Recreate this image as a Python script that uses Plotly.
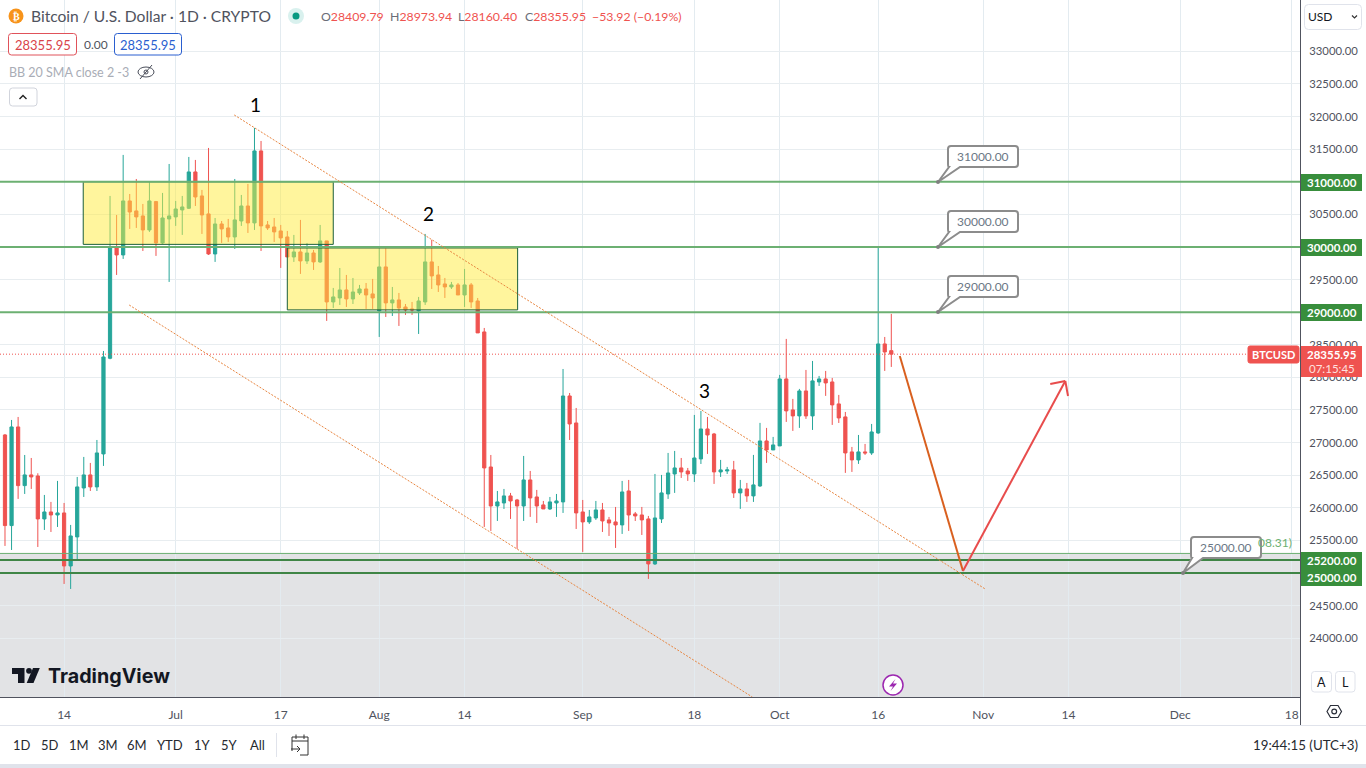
import pandas as pd
import plotly.graph_objects as go

W, H = 1366, 768
PLOT_R, PLOT_B = 1300, 697
FONT = "Lato"

first_day = "2023-06-05"
opens = [27117,25727,27240,26340,26504,26488,25829,25936,25890,25921,25108,25553,26304,26504,26320,26826,
 28293,30001,29878,30706,30553,30476,30261,30696,30062,30430,30461,30568,30594,31151,30783,30507,29893,30353,30292,30154,30399,30629,30369,31473,30338,30307,30246,30154,29847,29924,29786,29908,29771,30093,
 29157,29218,29341,29203,29295,29356,29280,29019,29694,29142,29188,29080,29050,29019,29157,29771,29571,29433,29387,29418,29264,29418,29172,
 28697,26626,26028,26074,26182,26120,26028,26427,26166,26044,25982,26074,26090,27715,27301,25936,25783,25844,25967,25814,25783,25737,26258,25906,25890,25829,25139,25829,26212,26519,26611,26565,26519,26749,27209,27132,
 26550,26565,26581,26228,26289,26182,26335,27025,26887,26949,27976,27501,27409,27792,27409,27930,27976,27930,27593,27394,26857,26734,26857,26841,27148,28513,28409.79]
highs = [27132,27347,27393,26810,26764,26529,26197,26090,26412,26074,25737,26473,26780,26688,27040,28405,
 30783,30491,31412,30813,31043,30660,30997,30706,30829,31273,30706,30783,31381,31335,30875,31519,30445,30399,30430,31043,30798,30967,31826,31626,30399,30445,30338,30246,30185,30415,30062,29955,30338,30093,
 29372,29678,29571,29525,29418,29448,29510,29980,29980,29387,29295,29126,29157,29234,30200,30108,29709,29525,29464,29448,29663,29448,29218,
 28758,26810,26258,26289,26228,26136,26795,26565,26274,26105,26166,26212,28129,27761,27531,26120,25967,26105,26074,25860,26013,26412,26427,25936,26013,25875,26519,26504,26841,26872,26764,26611,27424,27485,27393,27148,
 26734,26627,26719,26427,26381,26811,27302,27225,27087,28038,28590,27670,27823,28114,28252,28022,28099,27992,27731,27470,26933,27117,26979,27286,30000,28620,28973.94]
lows = [25415,25353,26136,26212,26289,25399,25660,25629,25706,24832,24755,25200,26166,26258,26258,26642,
 28278,29571,29817,30277,30292,29939,30231,29863,30047,29464,30323,30185,30583,30629,30200,29878,29771,30062,30077,29970,30323,30215,30261,29939,30261,30077,29679,29847,29771,29587,29740,29648,29755,28866,
 29065,29111,29080,29126,29264,29050,29050,28620,28927,28942,28789,28958,28958,28666,29111,29356,29310,29218,29356,29264,29080,29065,28682,
 25706,25645,25798,25982,25829,25369,25798,25860,25767,25982,25967,25860,25921,27040,25675,25323,25752,25814,25629,25568,25384,25599,25645,25798,25583,24909,25123,25767,26136,26228,26458,26412,26396,26672,26826,26366,
 26473,26519,26151,25983,26090,26090,26320,26688,26887,26949,27317,27179,27225,27363,27194,27869,27716,27271,27301,26535,26550,26673,26811,26811,27133,28099,28160.40]
closes = [25727,27240,26340,26504,26473,25829,25936,25890,25921,25108,25568,26320,26504,26320,26841,28313,
 30006,29878,30706,30537,30461,30261,30706,30062,30445,30476,30583,30614,31151,30767,30491,29893,30353,30277,30154,30415,30629,30369,31473,30323,30292,30231,30139,29847,29924,29786,29908,29771,30093,29157,
 29234,29341,29203,29310,29356,29264,29218,29694,29142,29188,29065,29034,29034,29172,29771,29556,29418,29387,29418,29264,29418,29157,28682,
 26611,26028,26090,26182,26105,26028,26427,26151,26028,25982,26090,26105,27715,27286,25921,25783,25860,25967,25798,25767,25737,26243,25890,25875,25814,25139,25844,26228,26534,26611,26550,26519,26764,27209,27117,26550,
 26581,26581,26228,26289,26182,26351,27025,26887,26964,27976,27486,27409,27792,27409,27946,27976,27915,27578,27378,26841,26734,26857,26841,27163,28513,28390,28355.95]

y_ticks = list(range(24000, 33500, 500))
tagged_ticks = [25000, 29000, 30000, 31000]
x_tick_dates = ["2023-06-14","2023-07-01","2023-07-17","2023-08-01","2023-08-14","2023-09-01","2023-09-18",
                "2023-10-01","2023-10-16","2023-11-01","2023-11-14","2023-12-01","2023-12-18"]
x_tick_text = ["14","Jul","17","Aug","14","Sep","18","Oct","16","Nov","14","Dec","18"]

levels_light = [31000, 30000, 29000]
levels_dark = [25200, 25000]
zone_top = 25300
last_price = 28355.95

box_one = (("2023-06-16 22:00", 31000), ("2023-07-25 00:00", 30040))
box_two = (("2023-07-18 00:00", 29985), ("2023-08-22 02:00", 29035))
upper_channel = (("2023-07-09 22:00", 32025), ("2023-11-01 07:00", 24755))
lower_channel = (("2023-06-23 22:00", 29110), ("2023-09-26 20:00", 23098))
forecast_down = (("2023-10-19 07:00", 28328), ("2023-10-28 22:00", 25030))
forecast_up = (("2023-10-28 22:00", 25030), ("2023-11-13 12:00", 27945))
arrow_left = (("2023-11-11 05:00", 27900), ("2023-11-13 12:00", 27945))
arrow_right = (("2023-11-13 12:00", 27945), ("2023-11-13 22:00", 27715))
wave_labels = [("1", "2023-07-13 04:00", 32180), ("2", "2023-08-08 12:00", 30510), ("3", "2023-09-19 14:00", 27805)]

dates = pd.date_range(first_day, periods=len(opens), freq="D")

def px(x): return x / W
def py(y): return 1 - y / H

fig = go.Figure(go.Candlestick(
    x=dates, open=opens, high=highs, low=lows, close=closes,
    increasing=dict(line=dict(color="#26a69a", width=1), fillcolor="#26a69a"),
    decreasing=dict(line=dict(color="#ef5350", width=1), fillcolor="#ef5350"),
    whiskerwidth=0, showlegend=False, hoverinfo="skip"))

shapes, notes = [], []

def data_line(seg, color, width=1, dash=None):
    (p0, p1) = seg
    shapes.append(dict(type="line", xref="x", yref="y", x0=p0[0], y0=p0[1], x1=p1[0], y1=p1[1],
                       line=dict(color=color, width=width, dash=dash), layer="above"))

def rect_px(x0, y0, x1, y1, fill="rgba(0,0,0,0)", line=None, width=1):
    shapes.append(dict(type="rect", xref="paper", yref="paper", x0=px(x0), y0=py(y0), x1=px(x1), y1=py(y1),
                       fillcolor=fill, line=dict(color=line or "rgba(0,0,0,0)", width=width if line else 0), layer="above"))

def round_px(x0, y0, x1, y1, r, fill, line, width=1):
    p = (f"M{px(x0+r)},{py(y0)} L{px(x1-r)},{py(y0)} Q{px(x1)},{py(y0)} {px(x1)},{py(y0+r)} "
         f"L{px(x1)},{py(y1-r)} Q{px(x1)},{py(y1)} {px(x1-r)},{py(y1)} L{px(x0+r)},{py(y1)} "
         f"Q{px(x0)},{py(y1)} {px(x0)},{py(y1-r)} L{px(x0)},{py(y0+r)} Q{px(x0)},{py(y0)} {px(x0+r)},{py(y0)} Z")
    shapes.append(dict(type="path", xref="paper", yref="paper", path=p, fillcolor=fill,
                       line=dict(color=line, width=width), layer="above"))

def poly_px(points, fill=None, line=None, width=1, close=True):
    p = "M" + " L".join(f"{px(a)},{py(b)}" for a, b in points) + (" Z" if close else "")
    shapes.append(dict(type="path", xref="paper", yref="paper", path=p, fillcolor=fill or "rgba(0,0,0,0)",
                       line=dict(color=line or "rgba(0,0,0,0)", width=width if line else 0), layer="above"))

def circle_px(cx, cy, r, fill, line=None, width=1):
    shapes.append(dict(type="circle", xref="paper", yref="paper", x0=px(cx-r), x1=px(cx+r), y0=py(cy-r), y1=py(cy+r),
                       fillcolor=fill, line=dict(color=line or "rgba(0,0,0,0)", width=width if line else 0), layer="above"))

def text_px(x, y, text, size=12, color="#50535e", anchor="left", family=FONT):
    notes.append(dict(xref="paper", yref="paper", x=px(x), y=py(y), text=text, showarrow=False, xanchor=anchor,
                      yanchor="middle", font=dict(size=size, color=color, family=family), borderpad=0, borderwidth=0))

# grey zone below the support, behind the candles
shapes.append(dict(type="rect", xref="paper", yref="y", x0=0, x1=px(PLOT_R), y0=23098, y1=zone_top,
                   fillcolor="rgba(120,123,134,0.21)", line=dict(width=0), layer="between"))

# bottom chrome
rect_px(0, 725, W, 726, "#e0e3eb")
rect_px(0, 764, W, 768, "#e0e3eb")
rect_px(1300, 697, 1301, 725, "#50535e")

# yellow boxes above the candles
for (a, b) in (box_one, box_two):
    shapes.append(dict(type="rect", xref="x", yref="y", x0=a[0], y0=a[1], x1=b[0], y1=b[1],
                       fillcolor="rgba(255,235,59,0.5)", line=dict(color="#1b5e3a", width=1), layer="above"))

# horizontal levels
for lv in levels_light:
    shapes.append(dict(type="line", xref="paper", yref="y", x0=0, x1=px(PLOT_R), y0=lv, y1=lv,
                       line=dict(color="#6cb072", width=2), layer="above"))
for lv in levels_dark:
    shapes.append(dict(type="line", xref="paper", yref="y", x0=0, x1=px(PLOT_R), y0=lv, y1=lv,
                       line=dict(color="#3f8546", width=2), layer="above"))
shapes.append(dict(type="line", xref="paper", yref="y", x0=0, x1=px(PLOT_R), y0=zone_top, y1=zone_top,
                   line=dict(color="#6cb072", width=1), layer="above"))

# channels and forecast
DOT = "1px,2px"
CHANNEL_DOT = "2px,1.5px"
data_line(upper_channel, "#e8853f", 1, CHANNEL_DOT)
data_line(lower_channel, "#e8853f", 1, CHANNEL_DOT)
data_line(forecast_down, "#d9601f", 2)
data_line(forecast_up, "#e84c4c", 2)
data_line(arrow_left, "#e84c4c", 2)
data_line(arrow_right, "#e84c4c", 2)

# last price dotted line
shapes.append(dict(type="line", xref="paper", yref="y", x0=0, x1=px(1248), y0=last_price, y1=last_price,
                   line=dict(color="#ef5350", width=1, dash=DOT), layer="above"))

for label, xd, yd in wave_labels:
    notes.append(dict(xref="x", yref="y", x=xd, y=yd, text=label, showarrow=False,
                      font=dict(size=19, color="#000000", family=FONT)))

# fib text peeking behind the callout
text_px(1292, 542.5, "08.31)", 12, "#6cb072", "right")

# callouts
def callout(x0, y0, ax, ay, label):
    x1, y1, r = x0 + 70, y0 + 21, 3
    p = (f"M{px(x0+r)},{py(y0)} L{px(x1-r)},{py(y0)} Q{px(x1)},{py(y0)} {px(x1)},{py(y0+r)} "
         f"L{px(x1)},{py(y1-r)} Q{px(x1)},{py(y1)} {px(x1-r)},{py(y1)} L{px(x0+12)},{py(y1)} "
         f"L{px(ax)},{py(ay)} L{px(x0+1)},{py(y1)} Q{px(x0)},{py(y1)} {px(x0)},{py(y1-r)} "
         f"L{px(x0)},{py(y0+r)} Q{px(x0)},{py(y0)} {px(x0+r)},{py(y0)} Z")
    shapes.append(dict(type="path", xref="paper", yref="paper", path=p, fillcolor="#ffffff",
                       line=dict(color="#8c8c8c", width=2), layer="above"))
    circle_px(ax, ay, 2, "#808080")
    text_px(x0 + 35, y0 + 10.5, label, 12, "#6b7785", "center")

callout(948, 146, 938, 182, "31000.00")
callout(948, 211, 938, 247, "30000.00")
callout(948, 276, 938, 312, "29000.00")
callout(1191, 537, 1183, 573, "25000.00")

# price-scale tags
for y_, t in ((182.5, "31000.00"), (247.5, "30000.00"), (312.5, "29000.00")):
    rect_px(1301, y_ - 8.5, 1362, y_ + 8.5, "#388e3c")
    text_px(1331.5, y_, f"<b>{t}</b>", 11.5, "#ffffff", "center")
rect_px(1301, 552, 1362, 586, "#388e3c")
text_px(1331.5, 560.5, "<b>25200.00</b>", 11.5, "#ffffff", "center")
text_px(1331.5, 577.5, "<b>25000.00</b>", 11.5, "#ffffff", "center")
rect_px(1301, 346, 1362, 377, "#ef5350")
text_px(1331.5, 354.5, "<b>28355.95</b>", 11.5, "#ffffff", "center")
text_px(1331.5, 368.5, "07:15:45", 11.5, "#ffe0df", "center")
round_px(1248, 346, 1299, 363, 2, "#ef5350", "#ef5350")
text_px(1273.5, 354.5, "<b>BTCUSD</b>", 11, "#ffffff", "center")

# header
circle_px(16, 16, 7.5, "#f7931a")
text_px(16, 16, "<b>₿</b>", 10, "#ffffff", "center", "DejaVu Sans")
text_px(31, 16, "Bitcoin / U.S. Dollar · 1D · CRYPTO", 15.6, "#50535e")
circle_px(296, 16, 8, "#d9f1ee")
circle_px(296, 16, 3.5, "#089981")
RED = "#ef5350"; G = "#6a6d78"
for hx, letter, val in ((321, "O", "28409.79"), (390, "H", "28973.94"), (458, "L", "28160.40"), (525, "C", "28355.95")):
    text_px(hx, 16, f'<span style="color:{G}">{letter}</span>{val}', 12.3, RED)
text_px(592, 16, "−53.92 (−0.19%)", 12.3, RED)
round_px(8.5, 33.5, 76.5, 55, 3, "#ffffff", "#e0525a")
text_px(42.5, 44.5, "28355.95", 13, "#d9434a", "center")
text_px(84, 44.5, "0.00", 12, "#50535e")
round_px(114.5, 33.5, 181.5, 55, 3, "#ffffff", "#2a5fd0")
text_px(148, 44.5, "28355.95", 13, "#2a5fd0", "center")
text_px(9, 72, "BB 20 SMA close 2 -3", 12.5, "#a9adb6")
shapes.append(dict(type="circle", xref="paper", yref="paper", x0=px(138), x1=px(154), y0=py(77), y1=py(67),
                   fillcolor="rgba(0,0,0,0)", line=dict(color="#4a4e5a", width=1), layer="above"))
circle_px(146, 72, 2, "rgba(0,0,0,0)", "#4a4e5a")
poly_px([(140, 79), (152, 65)], line="#4a4e5a", width=1, close=False)
round_px(9.5, 88, 37, 106, 3, "#ffffff", "#d1d4dc")
poly_px([(19.5, 99), (23, 95.5), (26.5, 99)], line="#222222", width=1.4, close=False)

# top right USD box
round_px(1304.5, 4.5, 1361.5, 29.5, 4, "#ffffff", "#e0e3eb")
text_px(1308, 17, "USD", 12, "#131722", "left")
poly_px([(1352, 15.5), (1354.5, 18), (1357, 15.5)], line="#333333", width=1.2, close=False)

# TradingView mark
poly_px([(12, 668), (24.5, 668), (24.5, 683), (18, 683), (18, 674), (12, 674)], "#131722")
circle_px(29, 670.8, 2.9, "#131722")
poly_px([(33, 668), (39.8, 668), (33.5, 683), (26.7, 683)], "#131722")
text_px(48, 676, "<b>TradingView</b>", 19.7, "#131722", "left", "Inter")

# lightning marker
circle_px(893, 685, 10, "#ffffff", "#9c27b0", 1.5)
poly_px([(895.5, 679), (889, 686.5), (893, 686.5), (890.5, 691), (897, 683.5), (893, 683.5)], "#9c27b0")

# A / L / settings
round_px(1311.5, 671.5, 1331.5, 692, 3, "#ffffff", "#e0e3eb")
round_px(1335.5, 671.5, 1355, 692, 3, "#ffffff", "#e0e3eb")
text_px(1321.5, 682, "A", 12.5, "#131722", "center")
text_px(1345, 682, "L", 12.5, "#131722", "center")
poly_px([(1327, 711.5), (1330.5, 705.5), (1338, 705.5), (1341.5, 711.5), (1338, 717.5), (1330.5, 717.5)],
        line="#2a2e39", width=1.2)
circle_px(1334.2, 711.5, 2.4, "#ffffff", "#2a2e39", 1.2)

# bottom toolbar
for tx, t in ((22, "1D"), (50, "5D"), (78.5, "1M"), (107.5, "3M"), (137, "6M"), (170, "YTD"), (202, "1Y"), (229, "5Y"), (257, "All")):
    text_px(tx, 745, t, 13, "#26292f", "center")
rect_px(276, 733, 277, 757, "#e0e3eb")
poly_px([(292, 751), (292, 737), (308, 737), (308, 755), (300, 755)], line="#333333", width=1, close=False)
poly_px([(292, 741), (308, 741)], line="#333333", width=1, close=False)
poly_px([(296, 734.5), (296, 739)], line="#333333", width=1, close=False)
poly_px([(304, 734.5), (304, 739)], line="#333333", width=1, close=False)
poly_px([(291, 749), (300, 749)], line="#333333", width=1, close=False)
poly_px([(297, 746), (300, 749), (297, 752)], line="#333333", width=1, close=False)
text_px(1358, 745, "19:44:15 (UTC+3)", 13.3, "#26292f", "right")

fig.update_layout(
    width=W, height=H, margin=dict(l=0, r=0, t=0, b=0, pad=0),
    paper_bgcolor="#ffffff", plot_bgcolor="#ffffff",
    font=dict(family=FONT, size=12, color="#50535e"),
    showlegend=False, shapes=shapes, annotations=notes, hovermode=False,
    xaxis=dict(domain=[0, PLOT_R / W], type="date", range=["2023-06-04 05:45", "2023-12-19 06:00"],
               rangeslider=dict(visible=False), tickmode="array", tickvals=x_tick_dates, ticktext=x_tick_text,
               showgrid=True, gridcolor="#e3ebf0", gridwidth=1, zeroline=False, showline=True,
               linecolor="#50535e", linewidth=1, ticks="outside", ticklen=7, tickcolor="rgba(0,0,0,0)",
               tickfont=dict(size=12, color="#50535e", family=FONT)),
    yaxis=dict(domain=[1 - PLOT_B / H, 1], side="right", range=[23098, 33788], tickmode="array",
               tickvals=y_ticks, ticktext=["" if v in tagged_ticks else f"{v:.2f}" for v in y_ticks],
               showgrid=True, gridcolor="#e8edf0", gridwidth=1, zeroline=False, showline=True,
               linecolor="#50535e", linewidth=1, ticks="outside", ticklen=6, tickcolor="rgba(0,0,0,0)",
               tickfont=dict(size=11.3, color="#50535e", family=FONT)),
)

fig.write_html("out.html", config={"displayModeBar": False},
               post_script="document.body.style.margin='0';document.body.style.overflow='hidden';")
